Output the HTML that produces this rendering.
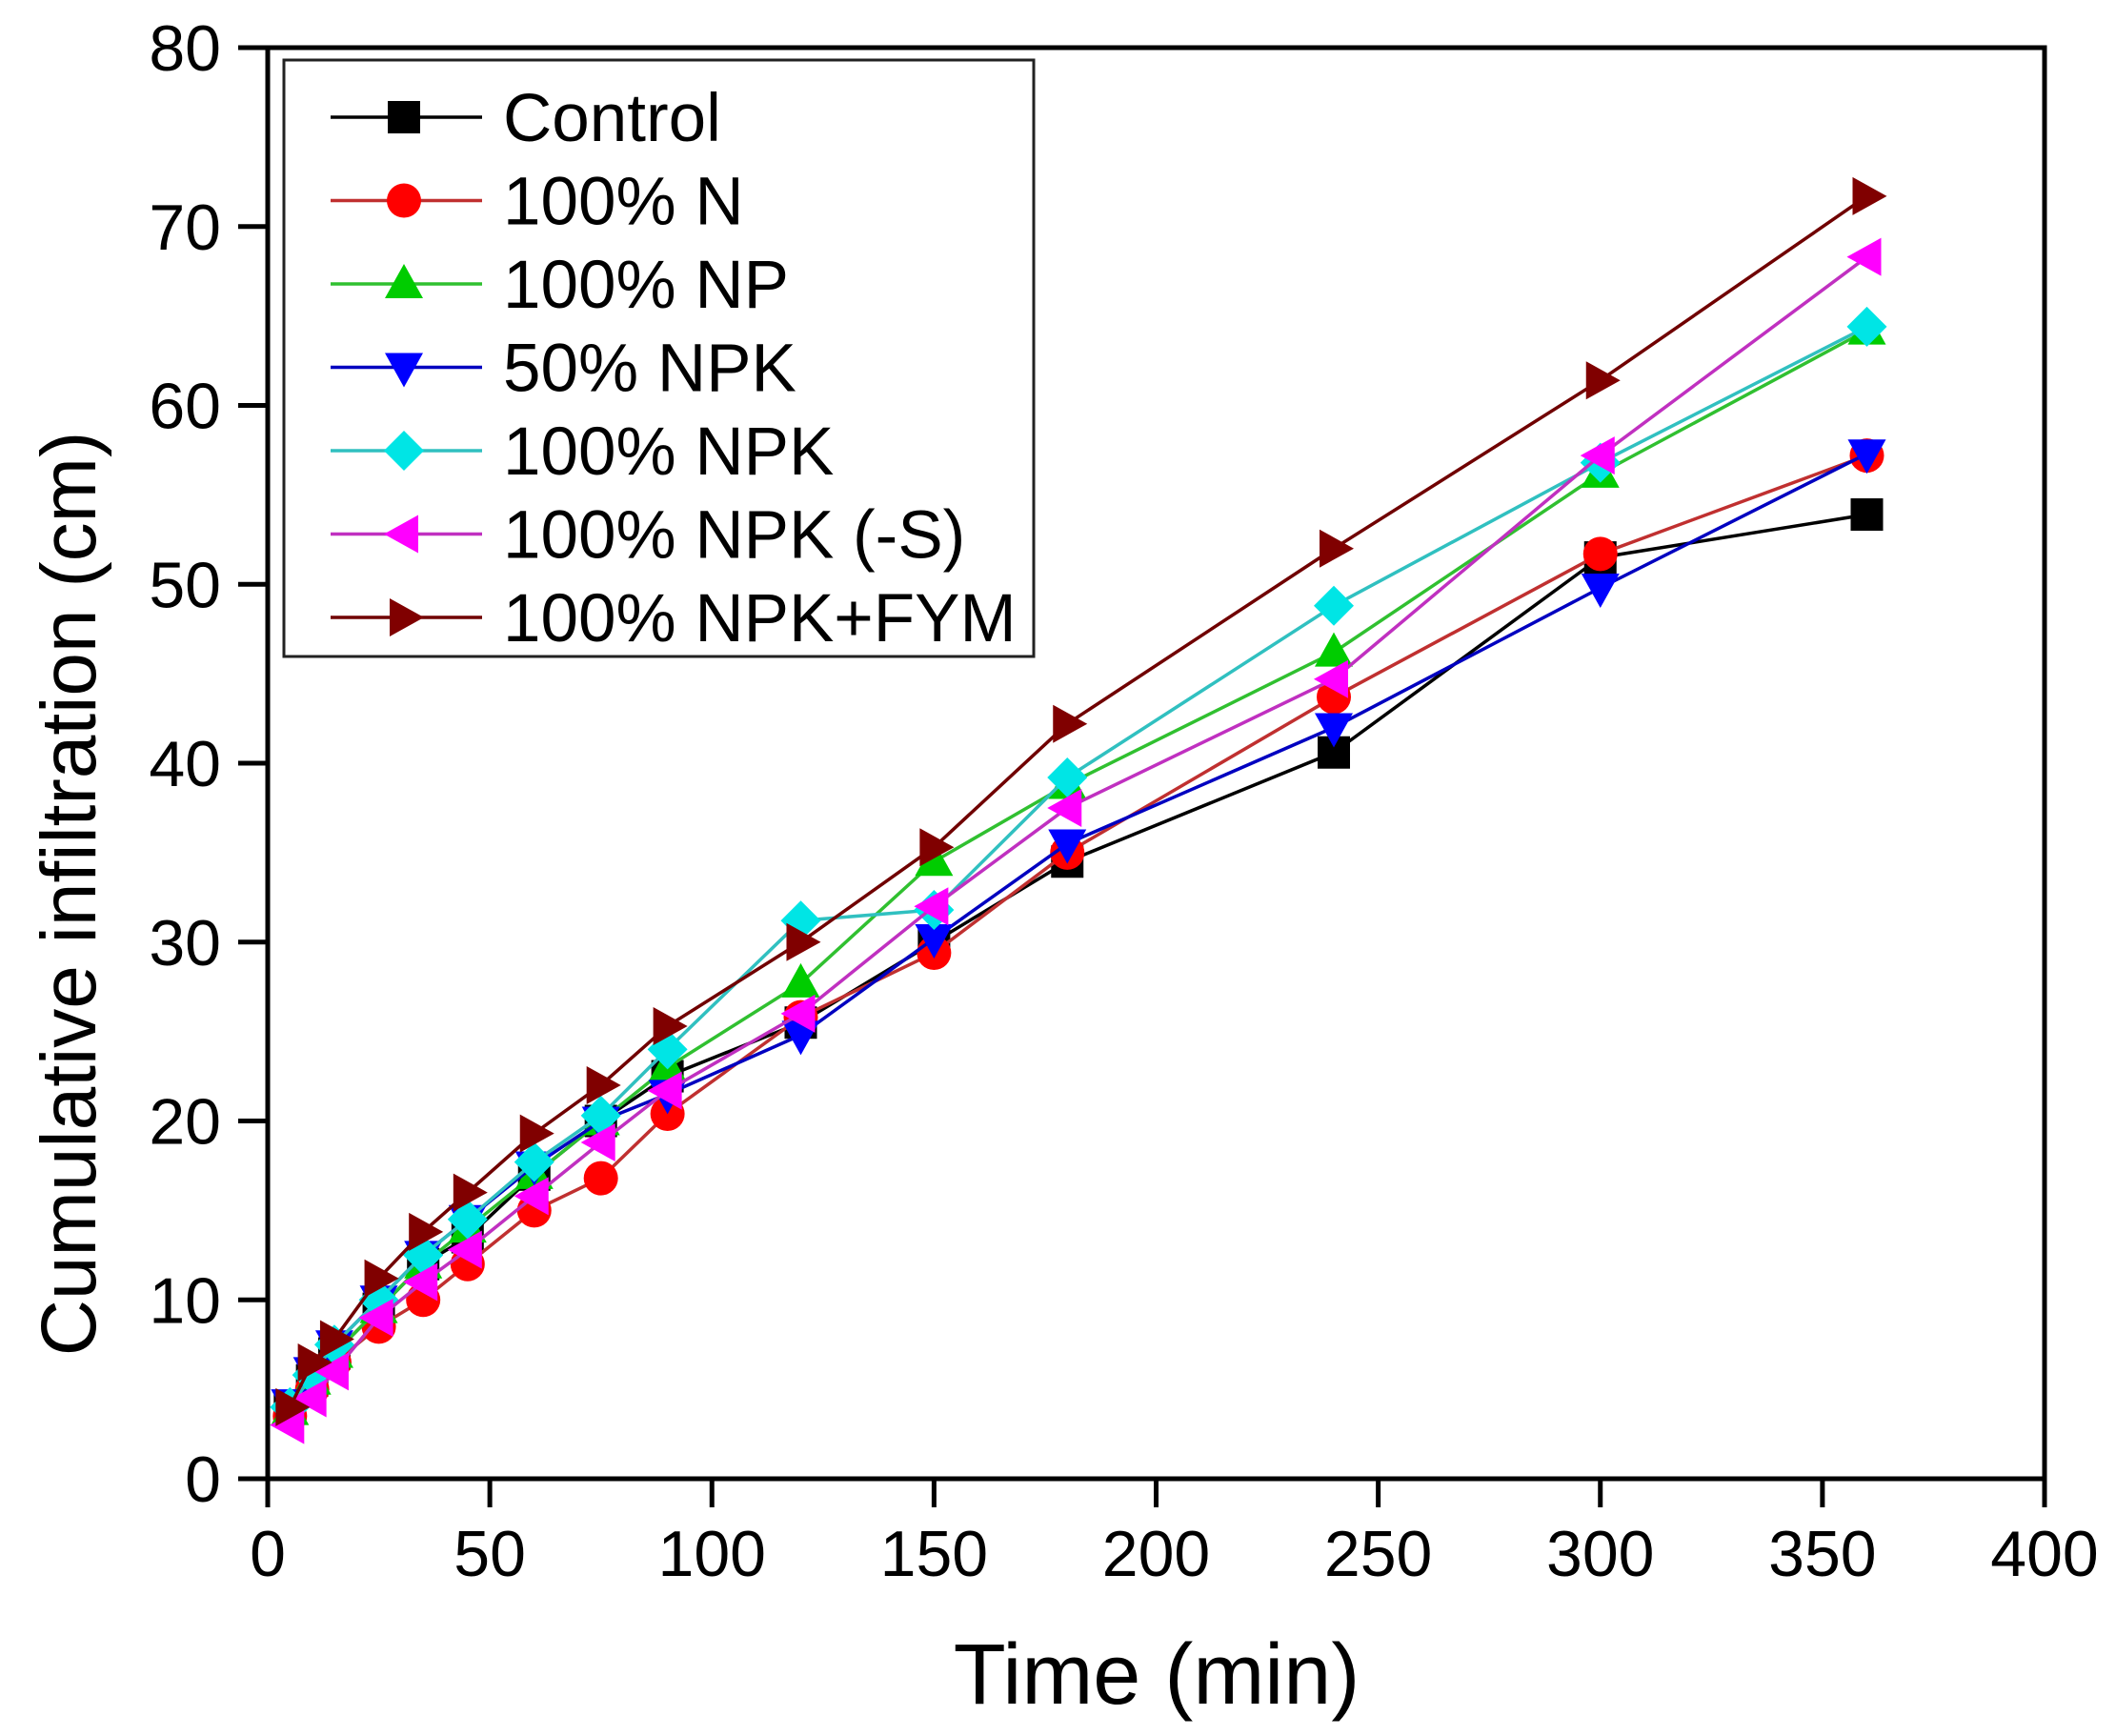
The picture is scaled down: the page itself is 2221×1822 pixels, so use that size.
<!DOCTYPE html>
<html><head><meta charset="utf-8"><style>
html,body{margin:0;padding:0;background:#fff;}
svg{display:block;font-family:"Liberation Sans",Arial,sans-serif;}
</style></head><body>
<svg id="chart" width="2221" height="1822" viewBox="0 0 2221 1822">
<g id="series"></g>
<g id="axes"></g>
<g id="legend"></g>
</svg>
<script>
const times = [5,10,15,25,35,45,60,75,90,120,150,180,240,300,360];
const seriesNames = ["Control","100% N","100% NP","50% NPK","100% NPK","100% NPK (-S)","100% NPK+FYM"];
const control = [4,5.5,7,9.5,12,13.5,17,20,22.5,25.5,30,34.5,40.6,51.5,53.9];
const n100 = [3.5,5,6.5,8.5,10,12,15,16.8,20.4,25.8,29.4,35,43.7,51.7,57.2];
const np100 = [3.8,5.5,7,9.5,12,14,17,20,23,27.7,34.5,38.8,46.2,56.2,64.2];
const npk50 = [4.2,6,7.5,10,12.5,14.5,17.5,20,21.5,24.8,30.2,35.5,42,49.8,57.3];
const npk100 = [4,5.8,7.5,10,12.5,14.5,17.7,20.3,24,31.2,31.8,39.2,48.8,56.8,64.4];
const npkS = [3,4.5,6,9,11,12.8,15.8,18.8,21.7,26,32,37.5,44.7,57.2,68.3];
const npkFym = [4,6.5,7.8,11.2,13.8,16,19.3,22,25.3,30,35.3,42.2,52,61.4,71.7];
const xTicks = [0,50,100,150,200,250,300,350,400];
const yTicks = [0,10,20,30,40,50,60,70,80];

const NS="http://www.w3.org/2000/svg";
const X0=281,X1=2146,Y0=1552,Y1=50;
const xs=v=>X0+(v-0)/400*(X1-X0);
const ys=v=>Y0-(v-0)/80*(Y0-Y1);
function el(tag,attrs,parent){const e=document.createElementNS(NS,tag);for(const k in attrs)e.setAttribute(k,attrs[k]);parent.appendChild(e);return e;}

const allData=[control,n100,np100,npk50,npk100,npkS,npkFym];
const colors=["#000000","#ff0000","#00cc00","#0000ff","#00e5e5","#ff00ff","#800000"];
const lineColors=["#000000","#c03030","#30c030","#0000c0","#30c0c0","#c030c0","#700000"];
const shapes=["square","circle","up","down","diamond","left","right"];

function marker(shape,cx,cy,color,parent){
  const s=19;let m;
  if(shape==="square")m=el("rect",{x:cx-17,y:cy-17,width:34,height:34,fill:color},parent);
  else if(shape==="circle")m=el("circle",{cx:cx,cy:cy,r:18,fill:color},parent);
  else{
    let p;
    if(shape==="up")p=[[cx,cy-21],[cx+20,cy+15],[cx-20,cy+15]];
    if(shape==="down")p=[[cx,cy+21],[cx+20,cy-15],[cx-20,cy-15]];
    if(shape==="left")p=[[cx-21,cy],[cx+15,cy-20],[cx+15,cy+20]];
    if(shape==="right")p=[[cx+21,cy],[cx-15,cy-20],[cx-15,cy+20]];
    if(shape==="diamond")p=[[cx,cy-s-2],[cx+s+2,cy],[cx,cy+s+2],[cx-s-2,cy]];
    m=el("polygon",{points:p.map(q=>q.join(",")).join(" "),fill:color},parent);
  }
  return m;
}

const sg=document.getElementById("series");
allData.forEach((vals,i)=>{
  const g=el("g",{},sg);
  
  
  const pl=el("polyline",{points:vals.map((v,j)=>xs(times[j])+","+ys(v)).join(" "),fill:"none",stroke:lineColors[i],"stroke-width":3.5},g);
  
  
  vals.forEach((v,j)=>{
    const m=marker(shapes[i],xs(times[j]),ys(v),colors[i],g);
    
    
  });
});

const ag=document.getElementById("axes");
const frame=el("rect",{x:X0,y:Y1,width:X1-X0,height:Y0-Y1,fill:"none",stroke:"#000","stroke-width":5},ag);


xTicks.forEach(t=>{
  const x=xs(t);
  const l=el("line",{x1:x,y1:Y0,x2:x,y2:Y0+30,stroke:"#000","stroke-width":5},ag);
  
  
  const tx=el("text",{x:x,y:1654,"text-anchor":"middle","font-size":68,fill:"#000"},ag);
  tx.textContent=t;
  
  
});
yTicks.forEach(t=>{
  const y=ys(t);
  const l=el("line",{x1:X0-31,y1:y,x2:X0,y2:y,stroke:"#000","stroke-width":5},ag);
  
  
  const tx=el("text",{x:232,y:y+24,"text-anchor":"end","font-size":68,fill:"#000"},ag);
  tx.textContent=t;
  
  
});
const xt=el("text",{x:1214,y:1788,"text-anchor":"middle","font-size":90,fill:"#000"},ag);
xt.textContent="Time (min)";


const yt=el("text",{x:0,y:0,"text-anchor":"middle","font-size":82,fill:"#000",transform:"translate(100,938) rotate(-90)"},ag);
yt.textContent="Cumulative infiltration (cm)";



const lg=document.getElementById("legend");
const box=el("rect",{x:298,y:63,width:787,height:626,fill:"#fff",stroke:"#222","stroke-width":3},lg);


seriesNames.forEach((nm,i)=>{
  const y=123+i*87.5;
  const g=el("g",{},lg);
  
  
  el("line",{x1:347,y1:y,x2:506,y2:y,stroke:lineColors[i],"stroke-width":3.5},g);
  marker(shapes[i],424,y,colors[i],g);
  const t=el("text",{x:528,y:y+25,"font-size":71,fill:"#000"},g);
  t.textContent=nm;
});
</script>
</body></html>
